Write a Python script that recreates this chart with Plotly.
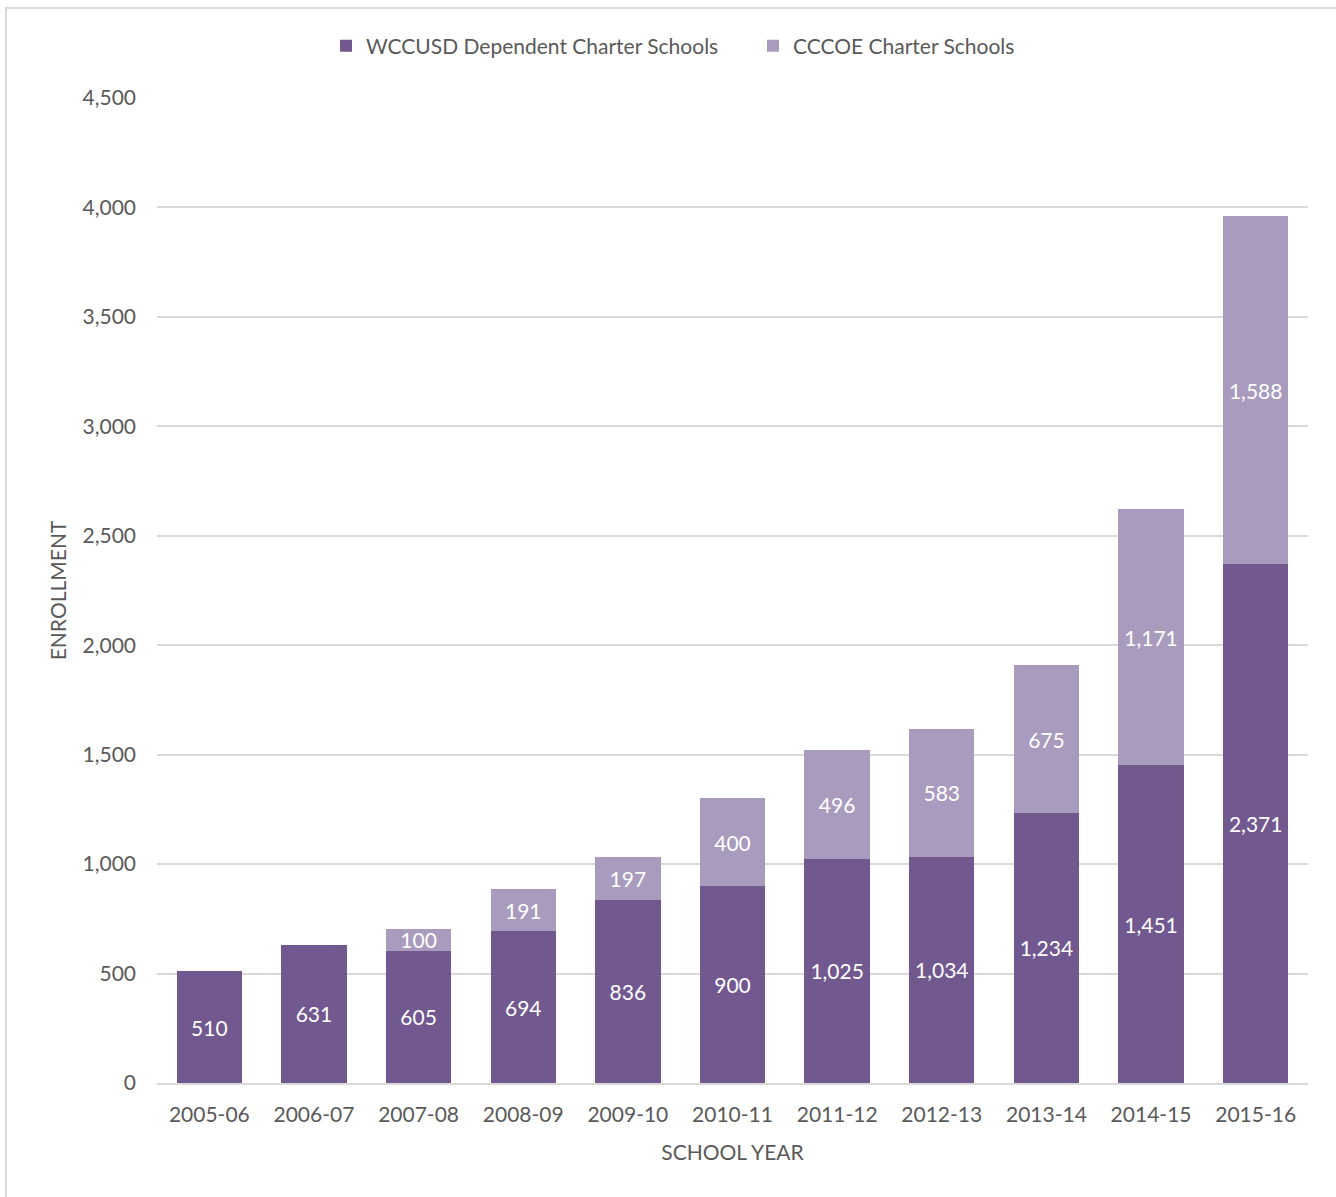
import plotly.graph_objects as go

years = ["2005-06", "2006-07", "2007-08", "2008-09", "2009-10", "2010-11",
         "2011-12", "2012-13", "2013-14", "2014-15", "2015-16"]
wccusd = [510, 631, 605, 694, 836, 900, 1025, 1034, 1234, 1451, 2371]
cccoe = [None, None, 100, 191, 197, 400, 496, 583, 675, 1171, 1588]
y_ticks = [0, 500, 1000, 1500, 2000, 2500, 3000, 3500, 4000, 4500]

FONT = "Lato, Open Sans, sans-serif"
TXT = "#595959"
FS = 21

fig = go.Figure()
fig.add_trace(go.Bar(
    x=years, y=wccusd, name="WCCUSD Dependent Charter Schools",
    marker=dict(color="#71588F", line=dict(width=0)),
    texttemplate="%{y:,}", textposition="inside", insidetextanchor="middle",
    textfont=dict(color="white", size=FS, family=FONT),
))
fig.add_trace(go.Bar(
    x=years, y=cccoe, name="CCCOE Charter Schools",
    marker=dict(color="#A99BBE", line=dict(width=0)),
    texttemplate="%{y:,}", textposition="inside", insidetextanchor="middle",
    textfont=dict(color="white", size=FS, family=FONT),
))

L, R, T, B = 157, 28, 98, 114
W, H = 1336, 1197
pw, ph = W - L - R, H - T - B

def px_x(p):
    return (p - L) / pw

def px_y(p):
    return (H - B - p) / ph

fig.update_layout(
    width=W, height=H,
    barmode="stack", bargap=0.375,
    margin=dict(l=L, r=R, t=T, b=B),
    paper_bgcolor="white", plot_bgcolor="white",
    font=dict(family=FONT, size=FS, color=TXT),
    uniformtext=dict(mode="show", minsize=FS),
    legend=dict(orientation="h", x=px_x(326), xanchor="left",
                y=px_y(46), yanchor="middle",
                font=dict(size=FS, color=TXT), entrywidth=382,
                entrywidthmode="pixels",
                itemsizing="constant", traceorder="normal"),
    xaxis=dict(
        type="category",
        title=dict(text="SCHOOL YEAR", font=dict(size=FS, color=TXT), standoff=20),
        tickfont=dict(size=FS, color=TXT), showgrid=False,
        showline=True, linecolor="#D9D9D9", linewidth=2,
        ticks="", ticklen=0, ticklabelstandoff=12,
    ),
    yaxis=dict(
        title=dict(text="ENROLLMENT", font=dict(size=FS, color=TXT), standoff=10),
        range=[0, 4500], tickvals=y_ticks, tickformat=",",
        tickfont=dict(size=FS, color=TXT),
        showgrid=True, gridcolor="#D9D9D9", gridwidth=2,
        zeroline=False, showline=False, ticks="", ticklabelstandoff=20,
    ),
    shapes=[dict(type="rect", xref="paper", yref="paper",
                 x0=px_x(6), x1=px_x(1345), y0=px_y(1210), y1=px_y(8),
                 line=dict(color="#D9D9D9", width=2), fillcolor="rgba(0,0,0,0)",
                 layer="below")],
)

fig.write_html("out.html")
